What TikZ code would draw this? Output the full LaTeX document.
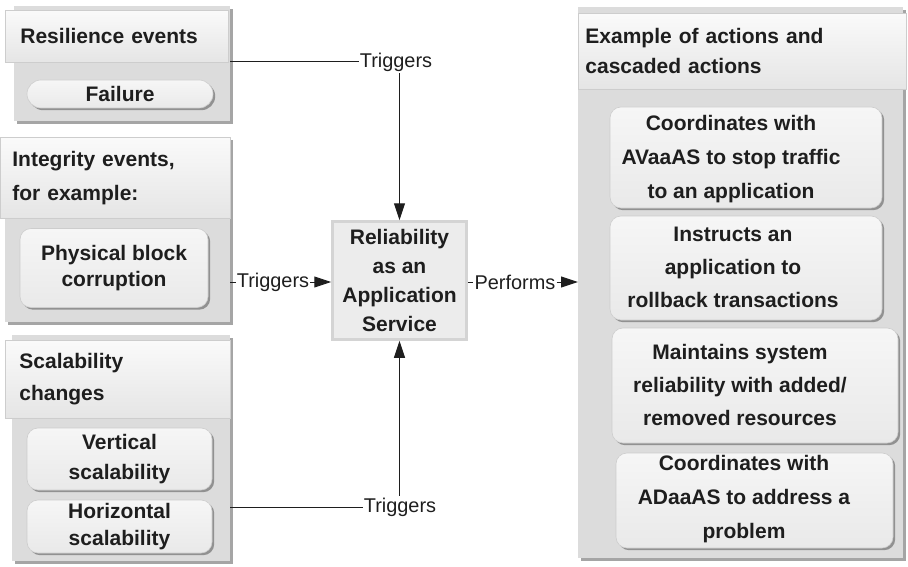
\documentclass[tikz,border=0pt]{standalone}
\usepackage{fontspec}
\setmainfont{Liberation Sans}
\usetikzlibrary{arrows.meta,shadows}
\definecolor{panelc}{RGB}{220,220,220}
\definecolor{panelsh}{RGB}{165,165,165}
\definecolor{hdrtop}{RGB}{250,250,250}
\definecolor{hdrbot}{RGB}{229,229,229}
\definecolor{hdrline}{RGB}{205,205,205}
\definecolor{pilltop}{RGB}{246,246,246}
\definecolor{pillbot}{RGB}{233,233,233}
\definecolor{pillsh}{RGB}{145,145,145}
\definecolor{centerfill}{RGB}{236,236,236}
\definecolor{centerline}{RGB}{212,212,212}
\definecolor{ink}{RGB}{30,30,30}
\begin{document}
\begin{tikzpicture}[x=1pt,y=-1pt,
  panel/.style={rectangle, fill=panelc, draw=none, anchor=north west, inner sep=0,
    drop shadow={shadow xshift=3pt, shadow yshift=-3pt, fill=panelsh, opacity=1}},
  header/.style={rectangle, top color=hdrtop, bottom color=hdrbot, draw=hdrline, line width=0.8pt,
    anchor=north west, align=left, text=ink, inner ysep=0,
    font=\fontsize{21}{32}\selectfont\bfseries},
  pill/.style={rectangle, rounded corners=11pt, top color=pilltop, bottom color=pillbot,
    draw=hdrline, line width=0.6pt, inner sep=0, align=center, text=ink,
    drop shadow={shadow xshift=2.2pt, shadow yshift=-2.2pt, fill=pillsh, opacity=1}},
  btext/.style={align=center, text=ink, inner sep=0},
  lbl/.style={font=\fontsize{19.9}{22}\selectfont, text=ink, inner xsep=1pt, inner ysep=2pt},
  conn/.style={line width=1pt, draw=ink},
  arr/.style={line width=1pt, draw=ink, -{Triangle[length=17pt,width=11pt]}}
]
\useasboundingbox (0,0) rectangle (908,567);

% ---- Resilience group
\node[panel, minimum width=216, minimum height=115] (g1) at (14,6) {};
\node[header, minimum width=223, minimum height=52, text width=193, inner xsep=15] (h1) at (5,10) {Resilience events};
\node[pill, rounded corners=14pt, minimum width=186, minimum height=28,
  font=\fontsize{21}{26}\selectfont\bfseries] (p1) at (120,94) {Failure};

% ---- Integrity group
\node[panel, minimum width=225, minimum height=185] (g2) at (5,137) {};
\node[header, minimum width=230, minimum height=81, text width=206, inner xsep=12,
  font=\fontsize{21}{34}\selectfont\bfseries] (h2) at (0,137) {Integrity events,\\for example:};
\node[pill, minimum width=188, minimum height=79,
  font=\fontsize{21}{26}\selectfont\bfseries] (p2) at (114,268) {Physical block\\corruption};

% ---- Scalability group
\node[panel, minimum width=218, minimum height=226] (g3) at (12,335) {};
\node[header, minimum width=225, minimum height=78, text width=197, inner xsep=14,
  font=\fontsize{21}{32}\selectfont\bfseries] (h3) at (5,340) {Scalability\\changes};
\node[pill, minimum width=185, minimum height=62,
  font=\fontsize{21}{30}\selectfont\bfseries] (p3) at (119.5,459) {Vertical\\scalability};
\node[pill, minimum width=185, minimum height=53,
  font=\fontsize{21}{27}\selectfont\bfseries] (p4) at (119.5,526.5) {Horizontal\\scalability};

% ---- Center
\node[rectangle, fill=centerfill, draw=centerline, line width=2.5pt, minimum width=134,
  minimum height=118, align=center, text=ink, inner sep=0,
  font=\fontsize{21}{29}\selectfont\bfseries] (rb) at (399.5,280.5)
  {Reliability\\as an\\Application\\Service};

% ---- Right group
\node[panel, minimum width=325, minimum height=551] (g5) at (578,7) {};
\node[header, minimum width=328, minimum height=76, text width=314, inner xsep=7,
  font=\fontsize{21}{30}\selectfont\bfseries] (h5) at (578,13) {Example of actions and\\cascaded actions};

\node[pill, minimum width=272, minimum height=101] (q1) at (746,157.5) {};
\node[btext, font=\fontsize{21}{34}\selectfont\bfseries] (q1t) at (731,159)
  {Coordinates with\\AVaaAS to stop traffic\\to an application};
\node[pill, minimum width=272, minimum height=104] (q2) at (746,268) {};
\node[btext, font=\fontsize{21}{33}\selectfont\bfseries] (q2t) at (733,267)
  {Instructs an\\application to\\rollback transactions};
\node[pill, minimum width=286, minimum height=115] (q3) at (755,385.5) {};
\node[btext, font=\fontsize{21}{33}\selectfont\bfseries] (q3t) at (740,385)
  {Maintains system\\reliability with added/\\removed resources};
\node[pill, minimum width=277, minimum height=95] (q4) at (754.5,500.5) {};
\node[btext, font=\fontsize{21}{34}\selectfont\bfseries] (q4t) at (744,499)
  {Coordinates with\\ADaaAS to address a\\problem};

% ---- Connector labels
\node[lbl] (lt) at (396,62) {Triggers};
\node[lbl] (lm) at (273,282) {Triggers};
\node[lbl] (lp) at (515,282) {Performs};
\node[lbl] (lb) at (400,507) {Triggers};

% ---- Connectors
\draw[conn] (g1.east |- lt.west) -- (lt.west);
\draw[arr] (lt.south -| rb.north) -- (rb.north);
\draw[conn] (g2.east |- lm.west) -- (lm.west);
\draw[arr] (lm.east) -- (rb.west |- lm.east);
\draw[conn] (rb.east |- lp.west) -- (lp.west);
\draw[arr] (lp.east) -- (g5.west |- lp.east);
\draw[conn] (g3.east |- lb.west) -- (lb.west);
\draw[arr] (lb.north -| rb.south) -- (rb.south);
\end{tikzpicture}
\end{document}
